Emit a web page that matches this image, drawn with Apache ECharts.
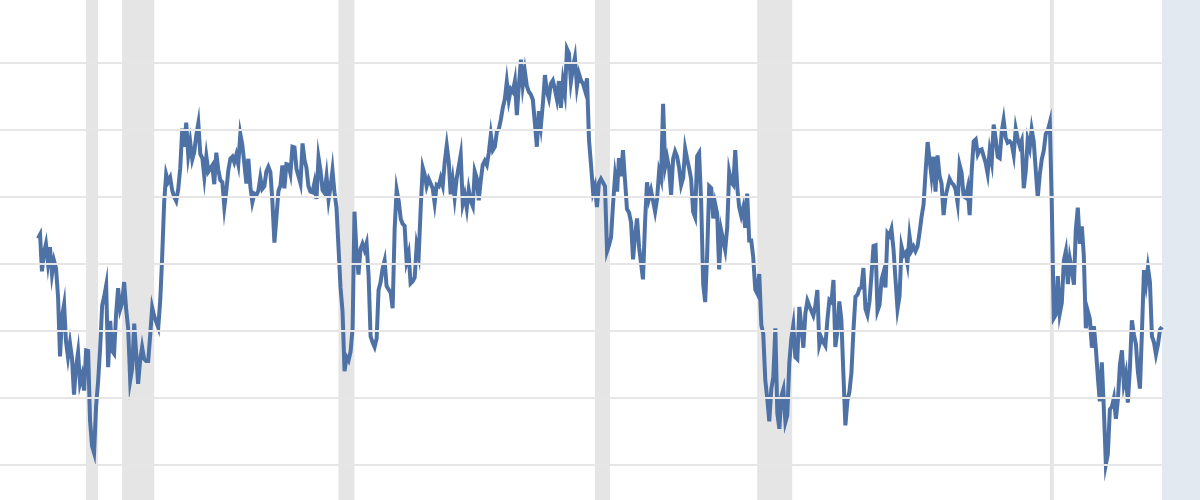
<!DOCTYPE html>
<html>
<head>
<meta charset="utf-8">
<script src="https://cdn.jsdelivr.net/npm/echarts@6/dist/echarts.min.js"></script>
<style>
  html, body { margin: 0; padding: 0; background: #e2e9f1; }
  #chart { width: 1200px; height: 500px; }
</style>
</head>
<body>
<div id="chart"></div>
<script>
// Monthly series, first observation January 1978
const startYear = 1978;
const sentiment = [
  83.7, 84.3, 78.8, 81.6, 82.9, 80.0, 82.4, 78.4, 80.4, 79.3, 75.0, 66.1,
  72.1, 73.9, 68.4, 66.0, 68.1, 65.8, 60.4, 64.5, 66.7, 62.1, 63.3, 61.0,
  67.0, 66.9, 56.5, 52.7, 51.7, 58.7, 62.3, 67.3, 73.7, 75.0, 76.7, 64.5,
  71.4, 66.9, 66.5, 72.4, 76.3, 73.1, 74.1, 77.2, 73.1, 70.3, 62.5, 64.3,
  71.0, 66.5, 62.0, 65.5, 67.5, 65.7, 65.4, 65.4, 69.3, 73.4, 72.1, 71.9,
  70.4, 74.6, 80.8, 89.1, 93.3, 92.2, 92.8, 90.9, 89.9, 89.3, 91.1, 94.2,
  100.1, 97.4, 101.0, 96.1, 98.1, 95.5, 96.6, 99.1, 100.9, 96.3, 95.7, 92.9,
  96.0, 93.7, 93.7, 94.6, 91.8, 96.5, 94.0, 92.4, 92.1, 88.4, 90.9, 93.9,
  95.6, 95.9, 95.1, 96.2, 94.8, 99.3, 97.7, 94.9, 91.9, 95.6, 91.4, 89.1,
  90.4, 90.2, 90.8, 92.8, 91.1, 91.5, 93.7, 94.4, 93.6, 89.3, 83.1, 86.8,
  90.8, 91.6, 94.6, 91.2, 94.8, 94.7, 93.4, 97.4, 97.3, 94.1, 93.0, 91.9,
  97.9, 95.4, 94.3, 91.5, 90.7, 90.6, 92.0, 89.6, 95.8, 93.9, 90.9, 90.5,
  93.0, 89.5, 91.3, 93.9, 90.6, 88.3, 88.2, 76.4, 72.8, 63.9, 66.0, 65.5,
  66.8, 70.4, 87.7, 81.8, 78.3, 82.1, 82.9, 82.0, 83.0, 78.3, 69.1, 68.2,
  67.5, 68.8, 76.0, 77.2, 79.2, 80.4, 76.6, 76.1, 75.6, 73.3, 85.3, 91.0,
  89.3, 86.6, 85.9, 85.6, 80.3, 81.5, 77.0, 77.3, 77.9, 82.7, 81.2, 88.2,
  94.3, 93.2, 91.5, 92.6, 92.8, 91.2, 89.0, 91.7, 91.5, 92.7, 91.6, 95.1,
  97.6, 95.1, 90.3, 92.5, 89.8, 92.7, 94.4, 96.2, 88.9, 90.2, 88.2, 91.0,
  89.3, 88.5, 93.7, 92.7, 89.4, 92.4, 94.7, 95.3, 94.7, 96.5, 99.2, 96.9,
  97.4, 99.7, 100.0, 101.4, 103.2, 104.5, 107.1, 104.4, 106.0, 105.6, 107.2, 102.1,
  106.6, 110.4, 106.5, 108.7, 106.5, 105.6, 105.2, 104.4, 100.9, 97.4, 102.7, 100.5,
  103.9, 108.1, 105.7, 104.6, 106.8, 107.3, 106.0, 104.5, 107.2, 103.2, 107.2, 105.4,
  112.0, 111.3, 107.1, 109.2, 110.7, 106.4, 108.3, 107.3, 106.8, 105.8, 107.6, 98.4,
  94.7, 90.6, 91.5, 88.4, 92.0, 92.6, 92.4, 91.5, 81.8, 82.7, 83.9, 88.8,
  93.0, 90.7, 95.7, 93.0, 96.9, 92.4, 88.1, 87.6, 86.1, 80.6, 84.2, 86.7,
  82.4, 79.9, 77.6, 86.0, 92.1, 89.7, 90.9, 89.3, 87.7, 89.6, 93.7, 92.6,
  103.8, 94.4, 95.8, 94.2, 90.2, 95.6, 96.7, 95.9, 94.2, 91.7, 92.8, 97.1,
  95.5, 94.1, 92.6, 87.7, 86.9, 96.0, 96.5, 89.1, 76.9, 74.2, 81.6, 91.5,
  91.2, 86.7, 88.9, 87.4, 79.1, 84.9, 84.7, 82.0, 85.4, 93.6, 92.1, 91.7,
  96.9, 91.3, 88.4, 87.1, 88.3, 85.3, 90.4, 83.4, 83.4, 80.9, 76.1, 75.5,
  78.4, 70.8, 69.5, 62.6, 59.8, 56.4, 61.2, 63.0, 70.3, 57.6, 55.3, 60.1,
  61.2, 56.3, 57.3, 65.1, 68.7, 70.8, 66.0, 65.7, 73.5, 70.6, 67.4, 72.5,
  74.4, 73.6, 73.6, 72.2, 73.6, 76.0, 67.8, 68.9, 68.2, 67.7, 71.6, 74.5,
  74.2, 77.5, 67.5, 69.8, 74.3, 71.5, 63.7, 55.8, 59.5, 60.8, 63.7, 69.9,
  75.0, 75.3, 76.2, 76.4, 79.3, 73.2, 72.3, 74.3, 78.3, 82.6, 82.7, 72.9,
  73.8, 77.6, 78.6, 76.4, 84.5, 84.1, 85.1, 82.1, 77.5, 73.2, 75.1, 82.5,
  81.2, 81.6, 80.0, 84.1, 81.9, 82.5, 81.8, 82.5, 84.6, 86.9, 88.8, 93.6,
  98.1, 95.4, 93.0, 95.9, 90.7, 96.1, 93.1, 91.9, 87.2, 90.0, 91.3, 92.6,
  92.0, 91.7, 91.0, 89.0, 94.7, 93.5, 90.0, 89.8, 91.2, 87.2, 93.8, 98.2,
  98.5, 96.3, 96.9, 97.0, 97.1, 95.0, 93.4, 96.8, 95.1, 100.7, 98.5, 95.9,
  95.7, 99.7, 101.4, 98.8, 98.0, 98.2, 97.9, 96.2, 100.1, 98.6, 97.5, 98.3,
  91.2, 93.8, 98.4, 97.2, 100.0, 98.2, 98.4, 89.8, 93.2, 95.5, 96.8, 99.3,
  99.8, 101.0, 89.1, 71.8, 72.3, 78.1, 72.5, 74.1, 80.4, 81.8, 76.9, 80.7,
  79.0, 76.8, 84.9, 88.3, 82.9, 85.5, 81.2, 70.3, 72.8, 71.7, 67.4, 70.6,
  67.2, 62.8, 59.4, 65.2, 58.4, 50.0, 51.5, 58.2, 58.6, 59.9, 56.8, 59.7,
  64.9, 67.0, 62.0, 63.5, 59.2, 64.2, 71.5, 69.4, 67.9, 63.8, 61.3, 69.7,
  79.0, 76.9, 79.4, 77.2, 69.1, 68.2, 66.4, 67.9, 70.1, 70.5
];

// Recession periods [start, end]
const recessions = [
  ['1980-01-01', '1980-07-01'],
  ['1981-07-01', '1982-11-01'],
  ['1990-07-01', '1991-03-01'],
  ['2001-03-01', '2001-10-15'],
  ['2007-12-01', '2009-05-15'],
  ['2020-02-01', '2020-04-01']
];

// Horizontal grid values
const gridValues = [50, 60, 70, 80, 90, 100, 110];
// Visible value window (the view is cropped between ticks)
const yRange = { min: 44.67, max: 119.3 };

function monthDate(i) {
  const y = startYear + Math.floor(i / 12);
  const m = (i % 12) + 1;
  return y + '-' + String(m).padStart(2, '0') + '-01';
}
const seriesData = sentiment.map((v, i) => [monthDate(i), v]);
const lastDate = monthDate(sentiment.length - 1);

const chart = echarts.init(document.getElementById('chart'), null, { renderer: 'canvas' });
chart.setOption({
  backgroundColor: '#e2e9f1',
  animation: false,
  grid: {
    show: true,
    backgroundColor: '#ffffff',
    borderWidth: 0,
    left: 0,
    right: 38,
    top: 0,
    bottom: 0
  },
  xAxis: {
    type: 'time',
    min: '1976-06-02',
    max: lastDate,
    axisLine: { show: false },
    axisTick: { show: false },
    axisLabel: { show: false },
    splitLine: { show: false }
  },
  yAxis: {
    type: 'value',
    min: yRange.min,
    max: yRange.max,
    axisLine: { show: false },
    axisTick: { show: false },
    axisLabel: { show: false },
    splitLine: { show: false }
  },
  series: [
    {
      type: 'line',
      data: [],
      silent: true,
      markLine: {
        silent: true,
        symbol: 'none',
        label: { show: false },
        lineStyle: { color: '#e6e6e6', width: 2, type: 'solid' },
        data: gridValues.map(v => ({ yAxis: v }))
      }
    },
    {
      type: 'line',
      data: seriesData,
      showSymbol: false,
      symbol: 'none',
      lineStyle: { color: '#4f72a6', width: 4, join: 'miter' },
      itemStyle: { color: '#4f72a6' },
      markArea: {
        silent: true,
        itemStyle: { color: '#e5e5e5' },
        data: recessions.map(r => [{ xAxis: r[0] }, { xAxis: r[1] }])
      }
    }
  ]
});
</script>
</body>
</html>
